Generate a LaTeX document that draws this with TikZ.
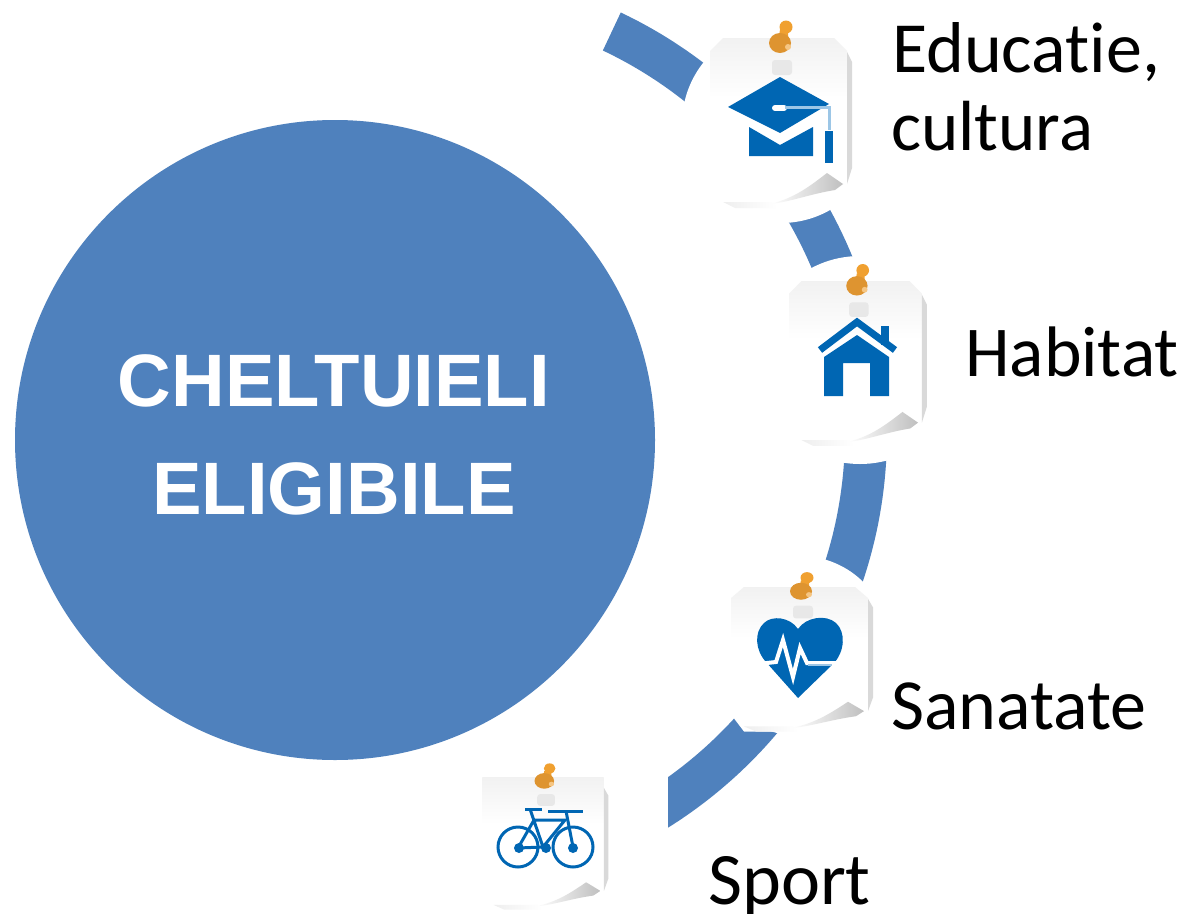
\documentclass[tikz,border=0pt]{standalone}
\usepackage{fontspec}
\setmainfont{Carlito}[Ligatures=CommonOff]
\newfontfamily\titlefont{Liberation Sans}
\definecolor{ringblue}{HTML}{4F81BD}
\definecolor{iconblue}{HTML}{0066B3}
\definecolor{iconlight}{HTML}{9CC6E6}
\definecolor{notegray}{HTML}{EAEAEA}
\definecolor{pinlight}{HTML}{F0A030}
\definecolor{pindark}{HTML}{DE9430}
\pgfdeclareverticalshading{notefade}{100bp}{color(0bp)=(white);color(45bp)=(white);color(75bp)=(notegray!65);color(100bp)=(notegray)}
\tikzset{
  lbl/.style={anchor=base west,inner sep=0pt,font=\fontsize{72}{80}\selectfont},
  ttl/.style={anchor=base,inner sep=0pt,text=white,font=\titlefont\bfseries\fontsize{74.3}{80}\selectfont},
  mask/.style={fill=white,draw=none},
  iconfill/.style={fill=iconblue,draw=none},
  iconline/.style={draw=iconblue,fill=none,line width=#1},
}
% x, y, xscale, yscale, chamfer
\newcommand{\notesheet}[5]{%
 \begin{scope}[shift={(#1,#2)},xscale=#3,yscale=#4]
  \fill[white] (#5,0) -- (137-#5,0) -- (142,19) -- (142,142) -- (130,155) -- (65,170) -- (13,170) -- (0,150) -- (0,#5) -- cycle;
  \shade[shading=notefade] (#5,0) -- (137-#5,0) -- (137,#5) -- (137,100) -- (0,100) -- (0,#5) -- cycle;
  \fill[gray!30] (137,14) -- (142,24) -- (142,130) -- (137,146) -- cycle;
  \shade[left color=white,right color=gray!50] (60,166) .. controls (85,160) and (100,148) .. (117,135) -- (133,146) -- (125,152) .. controls (100,156) and (80,164) .. cycle;
  \shade[left color=notegray!80,right color=white] (13,164) -- (25,170) -- (67,170) -- (62,164) -- cycle;
  \fill[gray!18,rounded corners=3pt] (62,22) rectangle (82,37);
  \fill[pinlight] (76,-11) ellipse[x radius=6.5,y radius=6.5];
  \fill[pinlight] (70,-8) -- (78,-6) -- (78,3) -- (68,3) -- cycle;
  \fill[pindark] (70,5) ellipse[x radius=11,y radius=10];
  \fill[pinlight!60] (78,9) circle[radius=3];
 \end{scope}}
\begin{document}
\begin{tikzpicture}[x=1pt,y=-1pt]
\useasboundingbox (0,0) rectangle (1183,913);
\fill[white] (0,0) rectangle (1183,913);
% ring
\begin{scope}
 \clip (423,433) -- (700,-156) -- (1200,-156) -- (1200,1000) -- (668,1000) -- (668,433) -- cycle;
 \fill[ringblue,even odd rule] (422,433) circle[radius=465] (422,433) circle[radius=423];
\end{scope}
\fill[mask] (781,124) circle[radius=99];
\fill[mask] (860,360) circle[radius=104];
\fill[mask] (800,646) circle[radius=90];
% main circle
\node[circle,fill=ringblue,minimum size=640pt,inner sep=0pt] (main) at (335,440) {};
\node[ttl] (t1) at (334,406) {CHELTUIELI};
\node[ttl] (t2) at (334,514) {ELIGIBILE};
% notes
\notesheet{710}{38}{1}{1}{13}
\notesheet{789}{281}{.97}{.97}{13}
\notesheet{731}{587}{1}{.85}{13}
\notesheet{482}{777}{.89}{.78}{1}
% hat
\fill[iconfill] (728,107) -- (780,77) -- (829,104) -- (780,133) -- cycle;
\fill[iconfill] (749,127) -- (780,145) -- (813,127) -- (813,156) -- (749,156) -- cycle;
\draw[white,line width=6pt,line cap=round] (775,108) -- (784,108);
\draw[iconlight,line width=3pt] (785,107) -- (829,107) -- (829,130);
\fill[iconfill] (825,131) rectangle (833,163);
% house
\draw[iconline=7pt,miter limit=10] (820,350) -- (857,322) -- (895,350);
\fill[iconfill] (881,326) rectangle (889,345);
\fill[iconfill] (824,357) -- (857,335) -- (889,357) -- (889,396) -- (870,396) -- (870,363) -- (843,363) -- (843,396) -- (824,396) -- cycle;
% heart
\fill[iconfill] (798,629) .. controls (790,617) and (772,615) .. (764,623) .. controls (754,632) and (755,650) .. (766,662) -- (798,698) -- (833,664) .. controls (845,652) and (846,632) .. (836,623) .. controls (826,614) and (806,617) .. (798,629) -- cycle;
\draw[white,line width=4pt,line join=miter] (758,664) -- (776,662) -- (783,640) -- (793,677) -- (800,648) -- (807,663) -- (850,663);
\draw[iconlight,line width=1.5pt] (808,665) -- (832,665);
% bike
\draw[iconline=3pt] (518,847) circle[radius=20];
\draw[iconline=3pt] (573,847) circle[radius=20];
\fill[iconfill] (519,848) circle[radius=5];
\fill[iconfill] (573,848) circle[radius=5];
\fill[iconfill] (546,848) circle[radius=5];
\draw[iconline=3pt] (525,809) -- (542,809);
\draw[iconline=3pt] (548,811) -- (583,811);
\draw[iconline=3pt] (530,809) -- (543,847) -- (518,848) -- (534,820) -- (565,820) -- (543,847);
\draw[iconline=3pt] (566,811) -- (573,847);
% labels
\node[lbl] (edu) at (892,72) {Educatie,};
\node[lbl] (cul) at (891,150) {\fontsize{71}{80}\selectfont cultura};
\node[lbl] (hab) at (965,376) {\fontsize{71.5}{80}\selectfont Habitat};
\node[lbl] (san) at (891,729) {Sanatate};
\node[lbl] (spo) at (708,904) {\fontsize{74}{80}\selectfont Sport};
\end{tikzpicture}
\end{document}
